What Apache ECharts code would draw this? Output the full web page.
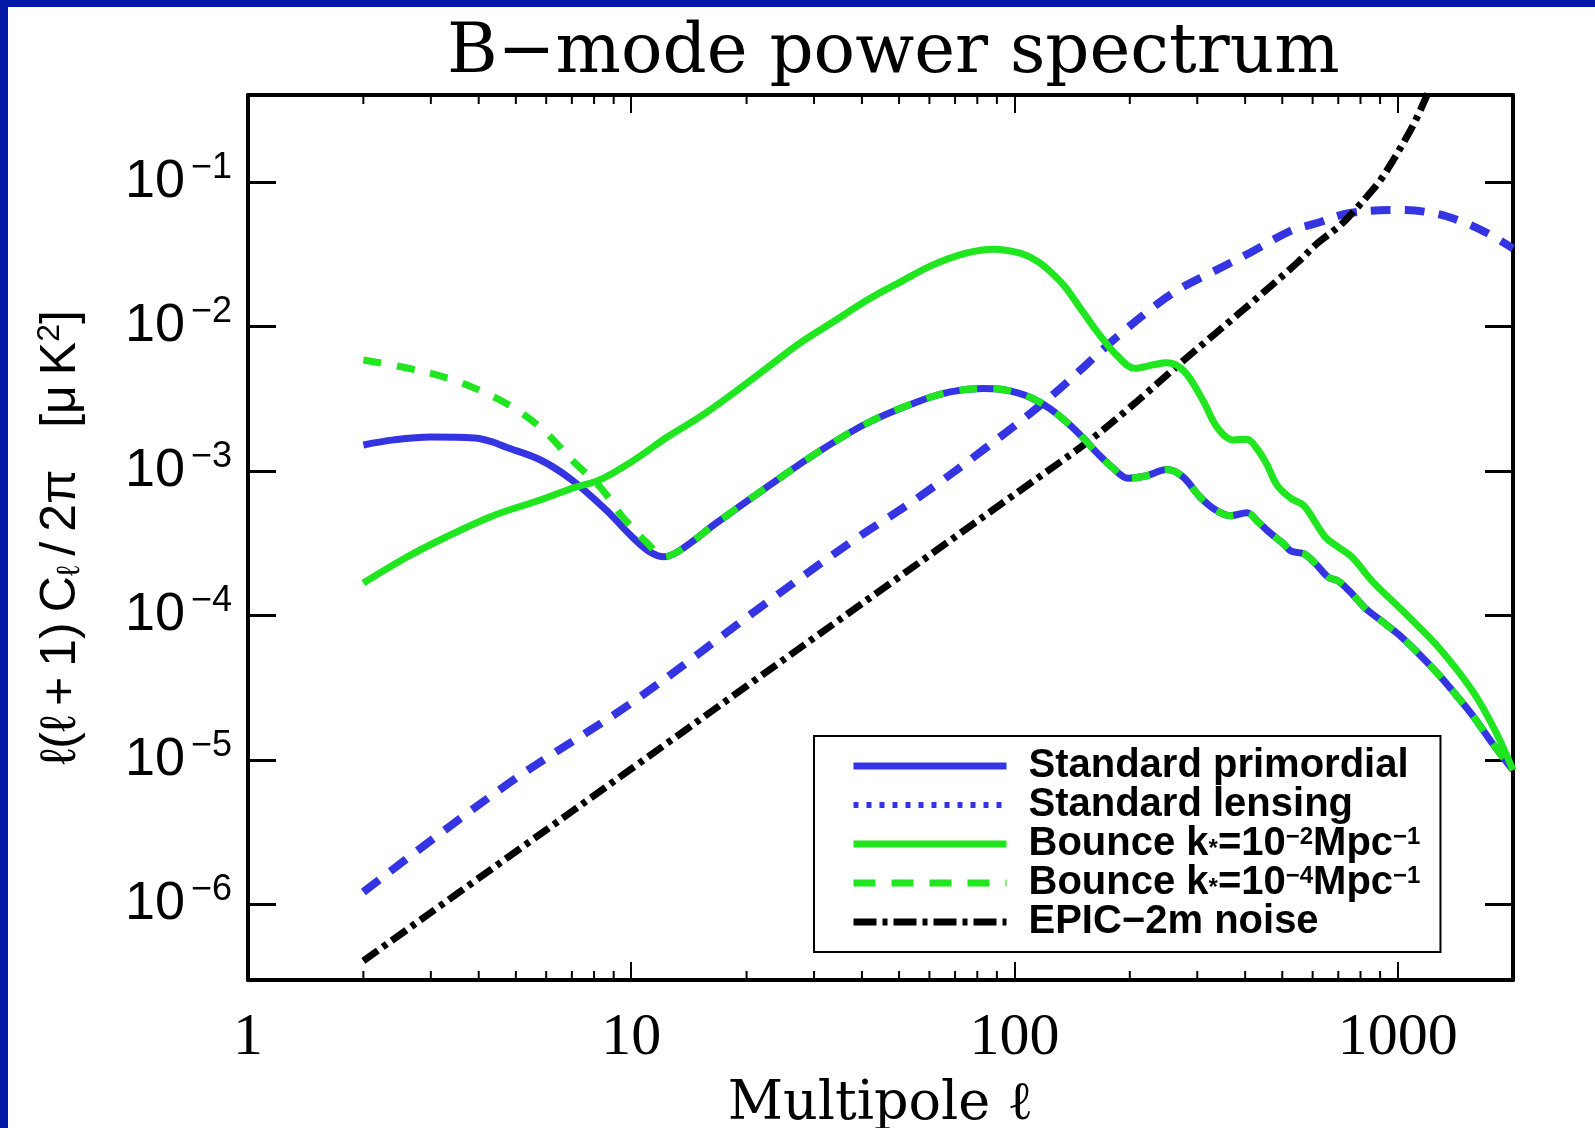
<!DOCTYPE html>
<html>
<head>
<meta charset="utf-8">
<script src="https://cdn.jsdelivr.net/npm/echarts@6/dist/echarts.min.js"></script>
<style>
html,body{margin:0;padding:0;width:1595px;height:1128px;overflow:hidden;background:#0219a8;}
#chart{position:absolute;left:8px;top:7px;width:1587px;height:1121px;background:#ffffff;}
</style>
</head>
<body>
<div id="chart"></div>
<script>
// ---------------- data ----------------
const primordialL = [2, 2.4, 3, 3.9, 4.3, 4.7, 5.8, 7, 8.6, 10, 11.2, 12.2, 13.4, 16.7, 22.6, 30.5, 41.3, 55.7, 68, 83, 92, 102, 112, 124, 138, 151, 165, 180, 198, 220, 250, 275, 305, 335, 365, 404, 435, 465, 502, 527, 570, 610, 658, 699, 760, 822, 900, 1009, 1140, 1283, 1420, 1574, 1750, 2000];
const primordialV = [1.514e-3, 1.641e-3, 1.718e-3, 1.690e-3, 1.60e-3, 1.466e-3, 1.191e-3, 8.67e-4, 5.37e-4, 3.55e-4, 2.75e-4, 2.55e-4, 2.82e-4, 4.37e-4, 7.74e-4, 1.334e-3, 2.148e-3, 3.006e-3, 3.524e-3, 3.715e-3, 3.673e-3, 3.467e-3, 3.162e-3, 2.692e-3, 2.138e-3, 1.698e-3, 1.318e-3, 1.059e-3, 8.91e-4, 9.23e-4, 1.023e-3, 9.12e-4, 6.61e-4, 5.37e-4, 4.90e-4, 5.13e-4, 4.37e-4, 3.72e-4, 3.16e-4, 2.79e-4, 2.67e-4, 2.29e-4, 1.845e-4, 1.734e-4, 1.413e-4, 1.127e-4, 9.33e-5, 7.33e-5, 5.37e-5, 3.87e-5, 2.82e-5, 2.01e-5, 1.35e-5, 8.5e-6];

const lensingL = [2, 4.79, 10.1, 22.1, 37.2, 55.7, 82.8, 124, 185, 238, 275, 324, 412, 524, 616, 751, 996, 1237, 1482, 1711, 2000];
const lensingV = [1.22e-6, 6.90e-6, 2.52e-5, 1.178e-4, 3.18e-4, 6.46e-4, 1.396e-3, 3.25e-3, 8.45e-3, 1.455e-2, 1.875e-2, 2.34e-2, 3.24e-2, 4.57e-2, 5.20e-2, 6.10e-2, 6.40e-2, 6.10e-2, 5.28e-2, 4.44e-2, 3.47e-2];

const bounce2L = [2, 2.6, 3.17, 4.28, 5.78, 7.05, 8.3, 10.1, 12.5, 15.1, 18.5, 22.6, 27.6, 33.6, 41.3, 50.3, 61.3, 75.2, 88, 103, 115, 124, 135, 151, 167, 185, 206, 230, 250, 277, 311, 338, 372, 404, 430, 455, 485, 527, 570, 647, 699, 760, 858, 1051, 1283, 1574, 1800, 2000];
const bounce2V = [1.68e-4, 2.54e-4, 3.33e-4, 4.81e-4, 6.30e-4, 7.62e-4, 8.71e-4, 1.175e-3, 1.738e-3, 2.366e-3, 3.467e-3, 5.16e-3, 7.69e-3, 1.074e-2, 1.524e-2, 2.03e-2, 2.67e-2, 3.23e-2, 3.43e-2, 3.23e-2, 2.82e-2, 2.40e-2, 1.905e-2, 1.259e-2, 8.71e-3, 6.31e-3, 5.13e-3, 5.43e-3, 5.62e-3, 4.92e-3, 3.05e-3, 2.0e-3, 1.64e-3, 1.66e-3, 1.42e-3, 1.12e-3, 7.94e-4, 6.46e-4, 5.73e-4, 3.49e-4, 2.98e-4, 2.54e-4, 1.73e-4, 1.023e-4, 5.96e-5, 2.96e-5, 1.58e-5, 8.5e-6];

// low-multipole part of the k*=1e-4 bounce model; above l=12.2 it coincides with the standard primordial curve
const bounce4LowL = [2, 2.6, 3.3, 4.0, 4.9, 5.9, 7.0, 8.3, 9.5, 11.0, 12.2];
const bounce4LowV = [5.86e-3, 5.16e-3, 4.41e-3, 3.64e-3, 2.77e-3, 1.92e-3, 1.19e-3, 7.74e-4, 4.81e-4, 3.18e-4, 2.55e-4];

const epicL = [2, 5, 10, 20, 50, 92, 156, 200, 275, 412, 546, 620, 708, 770, 832, 900, 973, 1050, 1122, 1250];
const epicV = [4.07e-7, 2.32e-6, 8.67e-6, 3.24e-5, 1.845e-4, 5.87e-4, 1.603e-3, 2.75e-3, 5.75e-3, 1.432e-2, 2.75e-2, 3.80e-2, 5.01e-2, 6.31e-2, 7.94e-2, 0.1023, 0.1413, 0.1995, 0.278, 0.530];

const xTickLabels = ['1', '10', '100', '1000'];
const yTickExponents = [-6, -5, -4, -3, -2, -1];
const xMinorTicks = [2, 3, 4, 5, 6, 7, 8, 9, 20, 30, 40, 50, 60, 70, 80, 90, 200, 300, 400, 500, 600, 700, 800, 900];

const seriesNames = ['Standard primordial', 'Standard lensing', 'Bounce k*=1e-2', 'Bounce k*=1e-4', 'EPIC-2m noise'];
const legendLabels = {
  'Standard primordial': 'Standard primordial',
  'Standard lensing': 'Standard lensing',
  'Bounce k*=1e-2': 'Bounce k{sub|*}=10{sup|−2}Mpc{sup|−1}',
  'Bounce k*=1e-4': 'Bounce k{sub|*}=10{sup|−4}Mpc{sup|−1}',
  'EPIC-2m noise': 'EPIC−2m noise'
};

// ---------------- build ----------------
const zip = (a, b) => a.map((v, i) => [v, b[i]]);
const bounce4Data = zip(bounce4LowL, bounce4LowV).concat(
  zip(primordialL, primordialV).filter(p => p[0] > 12.2)
);

const BLUE = '#3434e2';
const GREEN = '#1fe61f';
const BLACK = '#000000';
const TS = '\u2009';

const chart = echarts.init(document.getElementById('chart'));

const xAxisBase = {
  type: 'log', logBase: 10, min: 1, max: 2000,
  splitLine: {show: false}, minorTick: {show: false}, minorSplitLine: {show: false},
  axisLine: {show: true, lineStyle: {color: '#000', width: 4}},
  axisTick: {show: true, inside: true, length: 18, lineStyle: {color: '#000', width: 2}}
};
const yAxisBase = {
  type: 'log', logBase: 10, min: 3e-7, max: 0.4,
  splitLine: {show: false}, minorTick: {show: false}, minorSplitLine: {show: false},
  axisLine: {show: true, lineStyle: {color: '#000', width: 4}},
  axisTick: {show: true, inside: true, length: 28, lineStyle: {color: '#000', width: 3}}
};

const isDecade = v => Math.abs(Math.log10(v) - Math.round(Math.log10(v))) < 0.01;
const hideSymbol = {opacity: 0};

const yName = '{n|ℓ(ℓ' + TS + '+' + TS + '1)' + TS + 'C}{sub|ℓ}{n|' + TS + '/' + TS + '2π   [μ' + TS + 'K}{sup|2}{n|]}';

const option = {
  animation: false,
  backgroundColor: '#ffffff',
  title: {
    text: 'B−mode power spectrum',
    left: 434, top: 8,
    textStyle: {fontFamily: 'DejaVu Serif', fontSize: 69, fontWeight: 'normal', color: '#000'}
  },
  grid: {left: 240, right: 82, top: 88, bottom: 148, containLabel: false, outerBoundsMode: 'none'},
  xAxis: [
    Object.assign({}, xAxisBase, {
      position: 'bottom',
      name: 'Multipole ℓ', nameLocation: 'middle', nameGap: 98,
      nameTextStyle: {fontFamily: 'DejaVu Serif', fontSize: 54, color: '#000'},
      axisLabel: {
        show: true, margin: 28, color: '#000',
        fontFamily: 'Liberation Serif', fontSize: 60,
        showMaxLabel: false,
        formatter: v => {
          if (!isDecade(v)) return '';
          const e = Math.round(Math.log10(v));
          return xTickLabels[e] !== undefined ? xTickLabels[e] : '';
        }
      }
    }),
    Object.assign({}, xAxisBase, {position: 'top', axisLabel: {show: false}})
  ],
  yAxis: [
    Object.assign({}, yAxisBase, {
      position: 'left',
      name: yName,
      nameLocation: 'middle', nameRotate: 90, nameGap: 160,
      nameTextStyle: {
        color: '#000',
        rich: {
          n: {fontFamily: 'Liberation Sans, DejaVu Sans', fontSize: 50, color: '#000'},
          sub: {fontFamily: 'Liberation Sans, DejaVu Sans', fontSize: 32, color: '#000', padding: [18, 0, 0, 0]},
          sup: {fontFamily: 'Liberation Sans, DejaVu Sans', fontSize: 32, color: '#000', padding: [0, 0, 22, 0]}
        }
      },
      axisLabel: {
        show: true, margin: 16, color: '#000',
        showMinLabel: false, showMaxLabel: false,
        formatter: v => {
          if (!isDecade(v)) return '';
          const e = Math.round(Math.log10(v));
          if (yTickExponents.indexOf(e) < 0) return '';
          return '{b|10}{s|−' + (-e) + '}';
        },
        rich: {
          b: {fontFamily: 'Liberation Sans', fontSize: 54, color: '#000'},
          s: {fontFamily: 'Liberation Sans', fontSize: 36, color: '#000', padding: [0, 0, 28, 6]}
        }
      }
    }),
    Object.assign({}, yAxisBase, {position: 'right', axisLabel: {show: false}})
  ],
  legend: {
    show: true, orient: 'vertical', left: 806, top: 729,
    itemWidth: 153, itemHeight: 30, itemGap: -1,
    padding: [10, 20, 10, 36],
    borderColor: '#000', borderWidth: 2, backgroundColor: '#ffffff',
    selectedMode: false, z: 20,
    textStyle: {
      fontFamily: 'Liberation Sans', fontWeight: 'bold', fontSize: 40, color: '#000',
      padding: [0, 0, 0, 17],
      rich: {
        sup: {fontFamily: 'Liberation Sans', fontWeight: 'bold', fontSize: 24, color: '#000', padding: [0, 0, 14, 0]},
        sub: {fontFamily: 'Liberation Sans', fontWeight: 'bold', fontSize: 24, color: '#000', padding: [10, 0, 0, 0]}
      }
    },
    formatter: name => legendLabels[name],
    data: [
      {name: seriesNames[0], itemStyle: hideSymbol, lineStyle: {color: BLUE, type: 'solid', width: 7}},
      {name: seriesNames[1], itemStyle: hideSymbol, lineStyle: {color: BLUE, type: [5, 8], width: 6}},
      {name: seriesNames[2], itemStyle: hideSymbol, lineStyle: {color: GREEN, type: 'solid', width: 7}},
      {name: seriesNames[3], itemStyle: hideSymbol, lineStyle: {color: GREEN, type: [22, 16], width: 7}},
      {name: seriesNames[4], itemStyle: hideSymbol, lineStyle: {color: BLACK, type: [23, 6, 5, 6], width: 7}}
    ]
  },
  series: [
    {
      name: seriesNames[1], type: 'line', data: zip(lensingL, lensingV),
      symbol: 'none', smooth: 0.35, color: BLUE,
      lineStyle: {color: BLUE, width: 8, type: [20, 14]}, z: 2
    },
    {
      name: seriesNames[4], type: 'line', data: zip(epicL, epicV),
      symbol: 'none', smooth: 0.35, color: BLACK,
      lineStyle: {color: BLACK, width: 7, type: [18, 6, 5, 6]}, z: 3
    },
    {
      name: seriesNames[0], type: 'line', data: zip(primordialL, primordialV),
      symbol: 'none', smooth: 0.35, color: BLUE,
      lineStyle: {color: BLUE, width: 7, type: 'solid'}, z: 4
    },
    {
      name: seriesNames[2], type: 'line', data: zip(bounce2L, bounce2V),
      symbol: 'none', smooth: 0.35, color: GREEN,
      lineStyle: {color: GREEN, width: 7, type: 'solid'}, z: 5
    },
    {
      name: seriesNames[3], type: 'line', data: bounce4Data,
      symbol: 'none', smooth: 0.35, color: GREEN,
      lineStyle: {color: GREEN, width: 7, type: [18, 16]}, z: 6
    },
    {
      name: 'minor ticks', type: 'custom', silent: true, clip: false, z: 7,
      data: xMinorTicks.map(v => [v, 1e-3]),
      encode: {x: 0, y: 1},
      renderItem: (params, api) => {
        const cs = params.coordSys;
        const x = api.coord([api.value(0), api.value(1)])[0];
        const bottom = cs.y + cs.height;
        return {
          type: 'group',
          children: [
            {type: 'line', shape: {x1: x, y1: bottom, x2: x, y2: bottom - 9}, style: {stroke: '#000', lineWidth: 2}},
            {type: 'line', shape: {x1: x, y1: cs.y, x2: x, y2: cs.y + 9}, style: {stroke: '#000', lineWidth: 2}}
          ]
        };
      }
    }
  ]
};
chart.setOption(option);
</script>
</body>
</html>
